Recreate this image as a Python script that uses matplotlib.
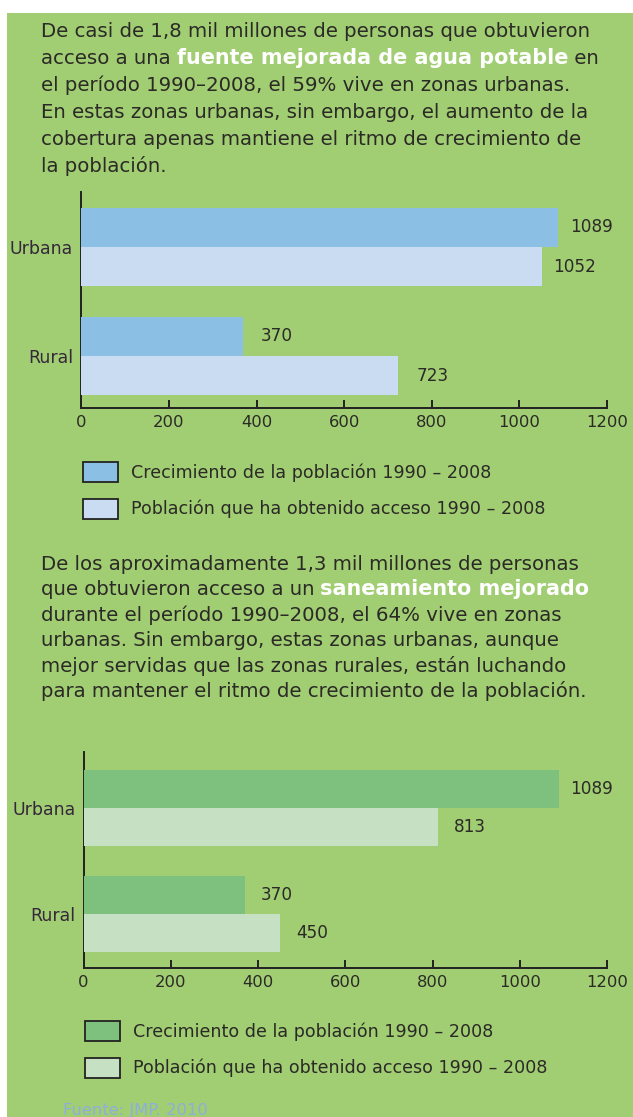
import matplotlib.pyplot as plt
from matplotlib.patches import Rectangle, Patch

W, H = 633, 1117

# data
categories = ["Rural", "Urbana"]
agua_crecimiento = [370, 1089]
agua_acceso = [723, 1052]
san_crecimiento = [370, 1089]
san_acceso = [450, 813]
series_labels = ["Crecimiento de la población 1990 – 2008",
                 "Población que ha obtenido acceso 1990 – 2008"]
xticks = [0, 200, 400, 600, 800, 1000, 1200]

parrafo1 = [
    [("De casi de 1,8 mil millones de personas que obtuvieron", False)],
    [("acceso a una ", False), ("fuente mejorada de agua potable", True), (" en", False)],
    [("el período 1990–2008, el 59% vive en zonas urbanas.", False)],
    [("En estas zonas urbanas, sin embargo, el aumento de la", False)],
    [("cobertura apenas mantiene el ritmo de crecimiento de", False)],
    [("la población.", False)],
]
parrafo2 = [
    [("De los aproximadamente 1,3 mil millones de personas", False)],
    [("que obtuvieron acceso a un ", False), ("saneamiento mejorado", True)],
    [("durante el período 1990–2008, el 64% vive en zonas", False)],
    [("urbanas. Sin embargo, estas zonas urbanas, aunque", False)],
    [("mejor servidas que las zonas rurales, están luchando", False)],
    [("para mantener el ritmo de crecimiento de la población.", False)],
]

BG = "#a1cd73"
TXT = "#2b2a26"
plt.rcParams["font.family"] = ["DejaVu Sans"]

fig = plt.figure(figsize=(W / 100, H / 100), dpi=100)
fig.patch.set_facecolor("white")
fig.patches.append(Rectangle((7 / W, 0), 1, 1 - 13 / H, transform=fig.transFigure,
                             facecolor=BG, edgecolor="none", zorder=-1))


def fx(px):
    return px / W


def fy(py):
    return 1 - py / H


renderer = fig.canvas.get_renderer()


def paragraph(lines, x0, y0, step, size=14.2):
    for i, segs in enumerate(lines):
        x = x0
        for s, bold in segs:
            t = fig.text(fx(x), fy(y0 + i * step), s, va="baseline",
                         fontsize=size * 1.05 if bold else size,
                         color="white" if bold else TXT,
                         fontweight="bold" if bold else "normal")
            x += t.get_window_extent(renderer).width


def chart(rect, crec, acc, colors, ylim, lab_off):
    left, top, right, bottom = rect
    ax = fig.add_axes([fx(left), fy(bottom), (right - left) / W, (bottom - top) / H])
    ax.set_facecolor("none")
    y = list(range(len(categories)))
    h = 0.36
    ax.barh([v + h / 2 for v in y], crec, height=h, color=colors[0], zorder=3)
    ax.barh([v - h / 2 for v in y], acc, height=h, color=colors[1], zorder=3)
    for i, v in enumerate(y):
        ax.annotate(str(crec[i]), (crec[i], v + h / 2), xytext=(lab_off[i][0], 0),
                    textcoords="offset points", va="center", fontsize=12.2, color=TXT)
        ax.annotate(str(acc[i]), (acc[i], v - h / 2), xytext=(lab_off[i][1], 0),
                    textcoords="offset points", va="center", fontsize=12.2, color=TXT)
    ax.set_xlim(0, 1200)
    ax.set_ylim(*ylim)
    ax.set_xticks(xticks)
    ax.set_yticks(y)
    ax.set_yticklabels(categories)
    for s in ["top", "right"]:
        ax.spines[s].set_visible(False)
    for s in ["left", "bottom"]:
        ax.spines[s].set_linewidth(1.4)
        ax.spines[s].set_color("#222222")
    ax.tick_params(axis="x", direction="in", length=6, width=1.4, color="#222222",
                   labelsize=11.8, labelcolor=TXT, pad=5)
    ax.tick_params(axis="y", length=0, labelsize=12.5, labelcolor="#35283a", pad=6)
    return ax


def legend(ax, colors, left, top):
    handles = [Patch(facecolor=c, edgecolor="#222222", linewidth=1.3) for c in colors]
    ax.legend(handles, series_labels, loc="upper left",
              bbox_to_anchor=(fx(left), fy(top)), bbox_transform=fig.transFigure,
              frameon=False, borderpad=0, borderaxespad=0, fontsize=12.6,
              handlelength=1.98, handleheight=1.37, handletextpad=0.75,
              labelspacing=0.96, labelcolor=TXT)


paragraph(parrafo1, 40.7, 37, 27)
ax1 = chart((81.3, 192, 607, 408), agua_crecimiento, agua_acceso,
            ["#8bbfe4", "#cadcf1"], (-0.477, 1.505), [(12.5, 13.5), (8.5, 8)])
legend(ax1, ["#8bbfe4", "#cadcf1"], 83, 462)

paragraph(parrafo2, 40.7, 570, 25.4)
ax2 = chart((83.6, 752, 607, 968), san_crecimiento, san_acceso,
            ["#7ec17f", "#c6e0c4"], (-0.509, 1.528), [(11.5, 11.5), (8.5, 11.5)])
legend(ax2, ["#7ec17f", "#c6e0c4"], 85, 1021)

fig.text(fx(63), fy(1103), "Fuente: JMP. 2010", fontsize=11.8, va="top", color="#8cafdc")

fig.savefig("out.png", dpi=100)
